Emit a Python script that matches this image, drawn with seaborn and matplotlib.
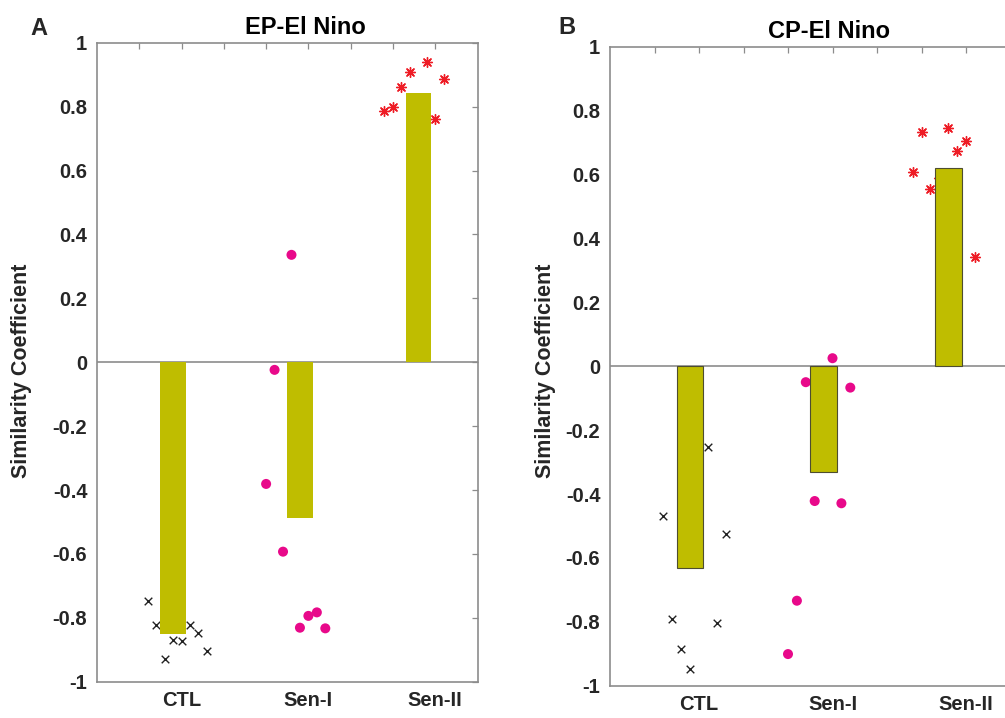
import matplotlib.pyplot as plt
import numpy as np
import pandas as pd
import seaborn as sns

groups = ["CTL", "Sen-I", "Sen-II"]

# member similarity coefficients, 8 per group, left to right
ep_ctl = [-0.746, -0.823, -0.929, -0.869, -0.873, -0.823, -0.849, -0.903]
ep_sen1 = [-0.381, -0.024, -0.593, 0.336, -0.831, -0.794, -0.783, -0.833]
ep_sen2 = [0.786, 0.798, 0.860, 0.909, 0.797, 0.939, 0.761, 0.886]

cp_ctl = [-0.470, -0.790, -0.886, -0.949, -0.372, -0.253, -0.803, -0.525]
cp_sen1 = [-0.901, -0.734, -0.050, -0.422, -0.062, 0.025, -0.429, -0.067]
cp_sen2 = [0.608, 0.733, 0.554, 0.589, 0.745, 0.674, 0.706, 0.343]

y_ticks = np.round(np.arange(-1, 1.01, 0.2), 1) + 0.0

# layout on the x axis (matlab-like numeric axis 0..9)
label_pos = [2, 5, 8]
bar_pos = [1.8, 4.8, 7.6]
pt_start = [1.2, 4.0, 6.8]
pt_step = 0.2

OLIVE = "#bfbd00"
GRAY = "#8c8c8c"
TXT = "#262626"

styles = {
    "CTL": dict(marker="x", color="#222222", s=30, linewidth=1.0),
    "Sen-I": dict(marker="o", color="#e8098a", s=52, edgecolor="none"),
    "Sen-II": dict(marker=(8, 2, 0), color="#ee1c25", s=50, linewidth=1.0),
}


def make_frame(series):
    rows = []
    for i, (g, vals) in enumerate(zip(groups, series)):
        for j, v in enumerate(vals):
            rows.append({"group": g, "value": v, "px": pt_start[i] + pt_step * j, "bx": bar_pos[i]})
    return pd.DataFrame(rows)


def tick_text(v):
    return "0" if abs(v) < 1e-9 else f"{v:g}"


def plot_panel(ax, df, title, bar_edge):
    ax.axhline(0, color=GRAY, lw=1.2, zorder=1)
    for g in groups:
        sns.scatterplot(data=df[df.group == g], x="px", y="value", ax=ax, legend=False, zorder=2, **styles[g])
    sns.barplot(
        data=df, x="bx", y="value", estimator="mean", errorbar=None, native_scale=True,
        width=0.6 / 2.8, color=OLIVE, saturation=1, ax=ax, zorder=3,
        edgecolor=bar_edge if bar_edge else OLIVE, linewidth=0.8 if bar_edge else 0,
    )
    ax.set_xlim(0, 9)
    ax.set_ylim(-1, 1)
    ax.set_xticks(range(1, 9))
    ax.set_xticklabels([groups[label_pos.index(t)] if t in label_pos else "" for t in range(1, 9)])
    ax.set_yticks(y_ticks)
    ax.set_yticklabels([tick_text(v) for v in y_ticks])
    ax.tick_params(direction="in", top=True, right=True, length=4, width=0.9, color=GRAY,
                   labelsize=14.5, labelcolor=TXT, pad=7)
    for lab in ax.get_xticklabels() + ax.get_yticklabels():
        lab.set_fontweight("bold")
    for spine in ax.spines.values():
        spine.set_edgecolor(GRAY)
        spine.set_linewidth(1.2)
    ax.set_xlabel("")
    ax.set_ylabel("Similarity Coefficient", fontsize=15.5, fontweight="bold", color=TXT)
    ax.set_title(title, x=0.548, pad=6, fontsize=17, fontweight="bold", color="black")


sns.set_theme(style="white")
plt.rcParams["font.family"] = ["Liberation Sans", "DejaVu Sans"]
plt.rcParams["axes.unicode_minus"] = False

fig = plt.figure(figsize=(10.05, 7.18), dpi=100)
ax_a = fig.add_axes([97 / 1005, 1 - 681.7 / 718, 380.5 / 1005, 639 / 718])
ax_b = fig.add_axes([610 / 1005, 1 - 685.7 / 718, 400.5 / 1005, 639 / 718])

plot_panel(ax_a, make_frame([ep_ctl, ep_sen1, ep_sen2]), "EP-El Nino", None)
plot_panel(ax_b, make_frame([cp_ctl, cp_sen1, cp_sen2]), "CP-El Nino", "#4d4d30")

ax_a.yaxis.set_label_coords(-0.17, 0.487)
ax_b.yaxis.set_label_coords(-0.135, 0.493)

fig.text(39 / 1005, 1 - 28.5 / 718, "A", fontsize=17, fontweight="bold", ha="center", va="center")
fig.text(567 / 1005, 1 - 28 / 718, "B", fontsize=17, fontweight="bold", ha="center", va="center")

fig.savefig("out.png", dpi=100)
